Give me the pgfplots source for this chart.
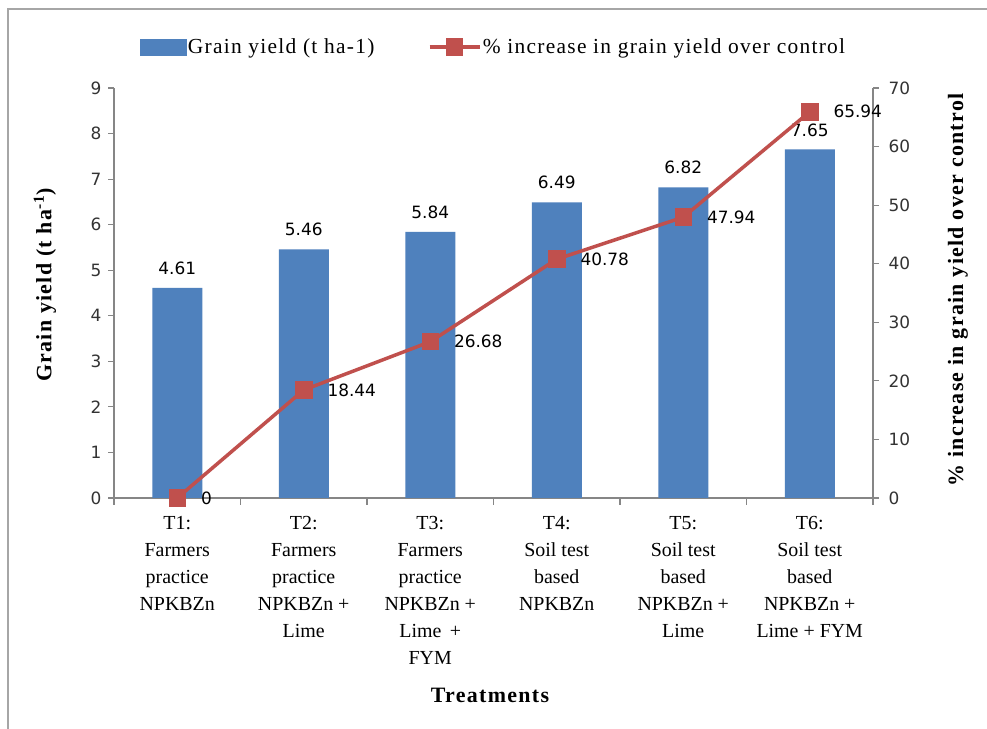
\documentclass[border=0pt]{standalone}
\usepackage{pgfplots}
\pgfplotsset{compat=1.18}
\usepackage{fontspec}
\setmainfont{Liberation Serif}
\newfontfamily\numfont{DejaVu Sans}
\newfontfamily\widefont[LetterSpace=6]{Liberation Serif}
\definecolor{barblue}{HTML}{4F81BD}
\definecolor{linered}{HTML}{C0504D}
\definecolor{axgray}{HTML}{868686}
\definecolor{framegray}{HTML}{A6A6A6}
\pgfplotstableread{
x y l
0 4.61 4.61
1 5.46 5.46
2 5.84 5.84
3 6.49 6.49
4 6.82 6.82
5 7.65 7.65
}\yielddata
\pgfplotstableread{
x y l
0 0 0
1 18.44 18.44
2 26.68 26.68
3 40.78 40.78
4 47.94 47.94
5 65.94 65.94
}\incdata
\begin{document}
\begin{tikzpicture}
\path[use as bounding box] (0,0) rectangle (987bp,729bp);
\fill[white] (0,0) rectangle (987bp,729bp);
\draw[framegray, line width=2bp] (8bp,0) -- (8bp,720bp) -- (987bp,720bp);
\pgfplotsset{
  common/.style={scale only axis, width=759bp, height=410bp,
    at={(114bp,231bp)}, anchor=south west,
    xmin=-0.5, xmax=5.5, clip=false,
    axis line style={axgray, line width=1.2bp},
    tick style={axgray, line width=1.2bp},
    tick align=outside, major tick length=6bp, minor tick length=7bp,
    /pgf/number format/assume math mode=true,
    yticklabel style={font=\fontsize{17}{20}\numfont, text=black!80}},
}
\begin{axis}[common, axis x line*=bottom, axis y line*=left,
  ymin=0, ymax=9, ytick={0,...,9},
  xtick={0,...,5}, major x tick style={draw=none},
  minor xtick={-0.5,0.5,1.5,2.5,3.5,4.5,5.5},
  xticklabels={{T1:\\Farmers\\practice\\NPKBZn},
               {T2:\\Farmers\\practice\\NPKBZn +\\Lime},
               {T3:\\Farmers\\practice\\NPKBZn +\\Lime \,+\\FYM},
               {T4:\\Soil test\\based\\NPKBZn},
               {T5:\\Soil test\\based\\NPKBZn +\\Lime},
               {T6:\\Soil test\\based\\NPKBZn +\\Lime + FYM}},
  xticklabel style={align=center, font=\fontsize{20}{27}\selectfont, yshift=-9bp},
  yticklabel style={xshift=-3bp},
]
\addplot[ybar, bar width=50bp, bar shift=0pt, fill=barblue, draw=none,
  nodes near coords, point meta=explicit symbolic,
  every node near coord/.append style={font=\fontsize{17}{20}\numfont, anchor=south, inner sep=0pt, yshift=13bp, text=black}]
  table[x=x, y=y, meta=l] {\yielddata};
\end{axis}
\begin{axis}[common, axis y line*=right, axis x line=none,
  ymin=0, ymax=70, ytick={0,10,...,70},
  yticklabel style={xshift=6bp},
  legend columns=-1, legend cell align=left,
  legend style={draw=none, fill=none, at={(axis description cs:0.034,1.1)}, anchor=west,
    font=\widefont\fontsize{21.5}{24}\selectfont, inner sep=0pt, nodes={inner sep=1.5bp},
    /tikz/every even column/.append style={column sep=52bp}},
]
\addlegendimage{legend image code/.code={\fill[barblue] (0bp,-8bp) rectangle (46bp,8bp);}}
\addlegendentry{Grain yield (t ha-1)}
\addplot[linered, line width=3.5bp, mark=square*, mark size=7bp, mark options={solid},
  nodes near coords, point meta=explicit symbolic,
  every node near coord/.append style={font=\fontsize{17}{20}\numfont, anchor=west, inner sep=0pt, xshift=22bp, text=black},
  legend image code/.code={\draw[linered, line width=3.5bp] (0bp,0bp) -- (50bp,0bp); \fill[linered] (18bp,-7bp) rectangle (32bp,7bp);}]
  table[x=x, y=y, meta=l] {\incdata};
\addlegendentry{\% increase in grain yield over control}
\end{axis}
\node[rotate=90, font=\widefont\bfseries\fontsize{22}{24}\selectfont] at (45bp,444bp) {Grain yield (t ha\textsuperscript{-1})};
\node[rotate=90, font=\widefont\bfseries\fontsize{22}{24}\selectfont] at (958bp,439bp) {\% increase in grain yield over control};
\node[font=\widefont\bfseries\fontsize{22}{24}\selectfont] at (490bp,34bp) {Treatments};
\end{tikzpicture}
\end{document}
